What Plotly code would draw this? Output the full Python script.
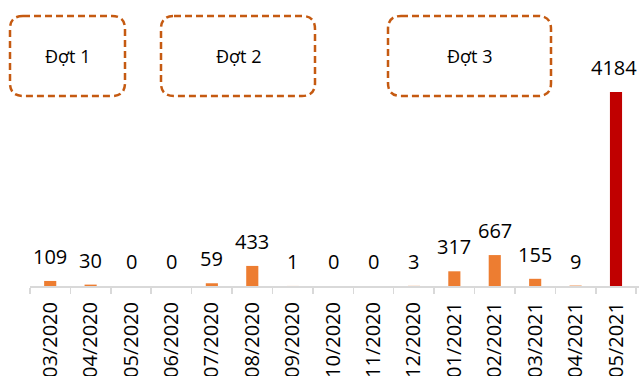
import plotly.graph_objects as go

months = ["03/2020", "04/2020", "05/2020", "06/2020", "07/2020", "08/2020", "09/2020",
          "10/2020", "11/2020", "12/2020", "01/2021", "02/2021", "03/2021", "04/2021", "05/2021"]
cases = [109, 30, 0, 0, 59, 433, 1, 0, 0, 3, 317, 667, 155, 9, 4184]
wave_labels = ["Đợt 1", "Đợt 2", "Đợt 3"]

ORANGE = "#ED7D31"
RED = "#C00000"
BOX = "#C55A11"
colors = [ORANGE] * (len(cases) - 1) + [RED]

W, H = 643, 376
ML, MR, MT, MB = 30, 4, 0, 90
PW, PH = W - ML - MR, H - MT - MB

def px2x(px):
    return (px - ML) / PW

def px2y(py):
    return (H - MB - py) / PH

def rounded_rect(x0, y0, x1, y1, r):
    pts = []
    pts.append(f"M {px2x(x0 + r)} {px2y(y0)}")
    pts.append(f"L {px2x(x1 - r)} {px2y(y0)}")
    pts.append(f"Q {px2x(x1)} {px2y(y0)} {px2x(x1)} {px2y(y0 + r)}")
    pts.append(f"L {px2x(x1)} {px2y(y1 - r)}")
    pts.append(f"Q {px2x(x1)} {px2y(y1)} {px2x(x1 - r)} {px2y(y1)}")
    pts.append(f"L {px2x(x0 + r)} {px2y(y1)}")
    pts.append(f"Q {px2x(x0)} {px2y(y1)} {px2x(x0)} {px2y(y1 - r)}")
    pts.append(f"L {px2x(x0)} {px2y(y0 + r)}")
    pts.append(f"Q {px2x(x0)} {px2y(y0)} {px2x(x0 + r)} {px2y(y0)}")
    pts.append("Z")
    return " ".join(pts)

FONT = "Open Sans"

fig = go.Figure(go.Bar(x=months, y=cases, marker_color=colors, width=0.3,
                       marker_line_width=0, hoverinfo="skip"))

annotations = []
for i, (m, v) in enumerate(zip(months, cases)):
    annotations.append(dict(x=m, y=v, xref="x", yref="y", text=str(v), showarrow=False,
                            yanchor="bottom", yshift=9, xshift=(-2 if i == len(cases) - 1 else 0),
                            font=dict(family=FONT, size=20, color="#000000")))

boxes = [(10, 16, 125, 96), (161, 16, 315, 96), (388, 16, 551, 96)]
shapes = []
for (x0, y0, x1, y1), lab in zip(boxes, wave_labels):
    shapes.append(dict(type="path", xref="paper", yref="paper",
                       path=rounded_rect(x0, y0, x1, y1, 13),
                       line=dict(color=BOX, width=2.5, dash="7px,4px")))
    annotations.append(dict(x=px2x((x0 + x1) / 2), y=px2y((y0 + y1) / 2), xref="paper", yref="paper",
                            text=lab, showarrow=False, xanchor="center", yanchor="middle",
                            font=dict(family=FONT, size=18, color="#000000")))

fig.update_layout(
    width=W, height=H,
    margin=dict(l=ML, r=MR, t=MT, b=MB, autoexpand=False),
    plot_bgcolor="white", paper_bgcolor="white",
    showlegend=False,
    shapes=shapes,
    annotations=annotations,
    xaxis=dict(type="category", tickangle=-90, tickson="boundaries", automargin=False,
               ticks="outside", ticklen=6, tickcolor="#D9D9D9", tickwidth=1.5,
               ticklabelstandoff=6,
               showline=True, linecolor="#D9D9D9", linewidth=2,
               tickfont=dict(family=FONT, size=20, color="#000000"),
               showgrid=False, fixedrange=True),
    yaxis=dict(range=[0, 4184 * PH / 194], visible=False, showgrid=False, fixedrange=True),
)

fig.write_html("out.html", config={"displayModeBar": False, "staticPlot": True},
               post_script="document.body.style.margin='0';document.body.style.overflow='hidden';")
